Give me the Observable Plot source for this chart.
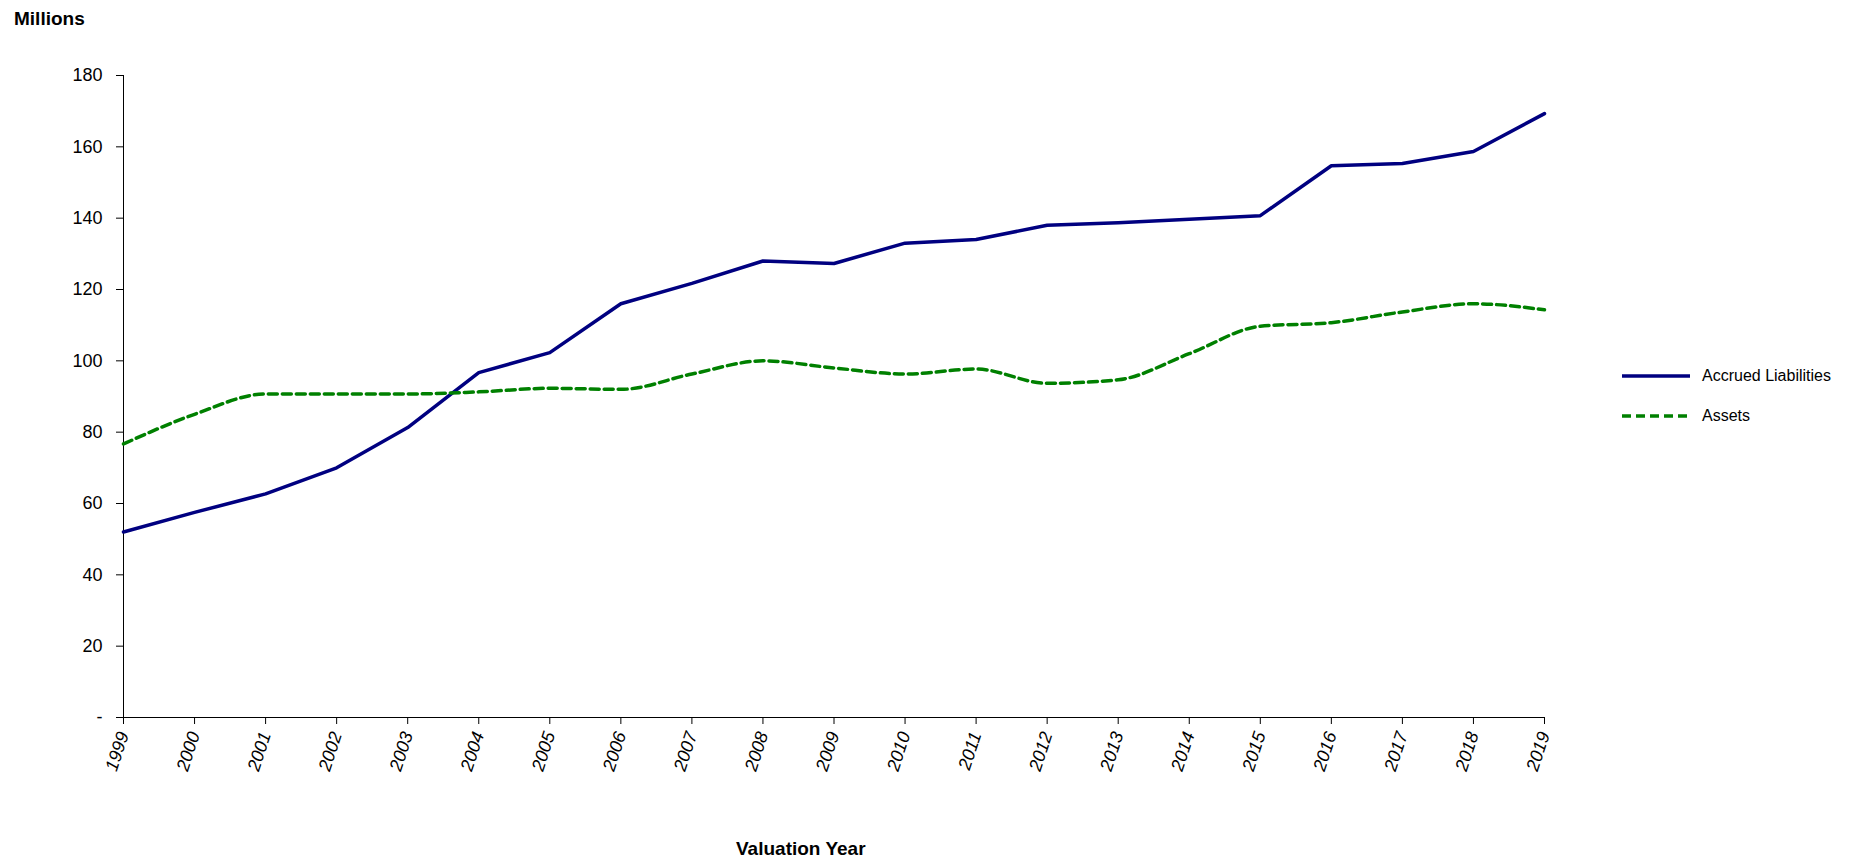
<!DOCTYPE html>
<html><head><meta charset="utf-8">
<script src="https://cdn.jsdelivr.net/npm/d3@7"></script>
<script src="https://cdn.jsdelivr.net/npm/@observablehq/plot@0.6"></script>
<style>
body{margin:0;background:#fff;font-family:"Liberation Sans",Arial,sans-serif;}
#wrap{position:relative;width:1862px;height:862px;}
.lbl{position:absolute;font-weight:bold;font-size:19px;color:#000;}
.leg{position:absolute;font-size:16px;display:flex;align-items:center;}
</style></head>
<body><div id="wrap">
<div class="lbl" style="left:14px;top:8px">Millions</div>
<div class="lbl" style="left:736px;top:838px">Valuation Year</div>
<div class="leg" style="left:1622px;top:367px"><svg width="70" height="10"><line x1="0" x2="68" y1="5" y2="5" stroke="#000080" stroke-width="3.5"/></svg><span style="margin-left:10px">Accrued Liabilities</span></div>
<div class="leg" style="left:1622px;top:407px"><svg width="70" height="10"><line x1="0" x2="68" y1="5" y2="5" stroke="#008000" stroke-width="3.5" stroke-dasharray="9,5"/></svg><span style="margin-left:10px">Assets</span></div>
<div id="myplot"></div>
</div>
<script>
const years = d3.range(1999, 2020);
const liabilities = [52, 57.5, 62.7, 70, 81.3, 96.7, 102.3, 116, 121.7, 128, 127.3, 133, 134, 138, 138.7, 139.7, 140.7, 154.7, 155.3, 158.7, 169.3];
const assets = [76.7, 85, 90.7, 90.7, 90.7, 91.3, 92.3, 92, 96.3, 100, 98, 96.3, 97.7, 93.7, 94.7, 102, 109.7, 110.7, 113.7, 116, 114.3];

const liab = years.map((y, i) => ({year: y, value: liabilities[i]}));
const ass = years.map((y, i) => ({year: y, value: assets[i]}));

const plot = Plot.plot({
  width: 1862,
  height: 862,
  marginLeft: 123,
  marginRight: 318,
  marginTop: 75,
  marginBottom: 145,
  style: {fontFamily: "Liberation Sans, Arial, sans-serif", fontSize: "18px", color: "#000"},
  x: {domain: [1999, 2019]},
  y: {domain: [0, 180]},
  marks: [
    Plot.ruleY([0]),
    Plot.ruleX([1999]),
    Plot.axisY({ticks: d3.range(0, 181, 20), tickFormat: (d) => (d === 0 ? "-" : d), tickSize: 7, tickPadding: 14, label: null}),
    Plot.axisX({ticks: years, tickFormat: (d) => String(d), tickRotate: -72, tickSize: 7, tickPadding: 8, fontStyle: "italic", label: null}),
    Plot.lineY(liab, {x: "year", y: "value", stroke: "#000080", strokeWidth: 3.5}),
    Plot.lineY(ass, {x: "year", y: "value", stroke: "#008000", strokeWidth: 3.5, strokeDasharray: "9,5", curve: "monotone-x"}),
  ],
});
document.querySelector("#myplot").append(plot);
</script>
</body></html>
